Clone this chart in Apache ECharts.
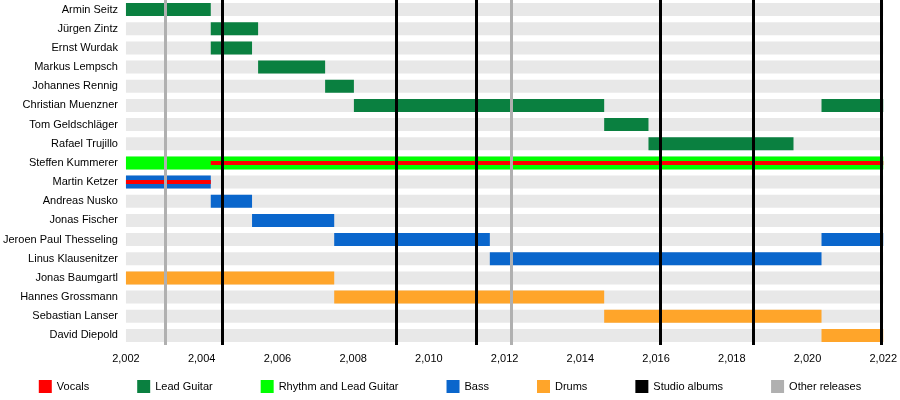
<!DOCTYPE html>
<html><head><meta charset="utf-8">
<script src="https://cdn.jsdelivr.net/npm/echarts@6/dist/echarts.min.js"></script>
<style>html,body{margin:0;padding:0;background:#fff}#c{width:900px;height:400px}</style>
</head><body><div id="c"></div>
<script>
const members = ["Armin Seitz","Jürgen Zintz","Ernst Wurdak","Markus Lempsch","Johannes Rennig","Christian Muenzner","Tom Geldschläger","Rafael Trujillo","Steffen Kummerer","Martin Ketzer","Andreas Nusko","Jonas Fischer","Jeroen Paul Thesseling","Linus Klausenitzer","Jonas Baumgartl","Hannes Grossmann","Sebastian Lanser","David Diepold"];
const vocals = [["Steffen Kummerer",2004.24,2022],["Martin Ketzer",2002,2004.24]];
const leadGuitar = [["Armin Seitz",2002,2004.24],["Jürgen Zintz",2004.24,2005.49],["Ernst Wurdak",2004.24,2005.33],["Markus Lempsch",2005.49,2007.26],["Johannes Rennig",2007.26,2008.02],["Christian Muenzner",2008.02,2014.63],["Christian Muenzner",2020.37,2022],["Tom Geldschläger",2014.63,2015.8],["Rafael Trujillo",2015.8,2019.63]];
const rhythmLead = [["Steffen Kummerer",2002,2022]];
const bass = [["Martin Ketzer",2002,2004.24],["Andreas Nusko",2004.24,2005.33],["Jonas Fischer",2005.33,2007.5],["Jeroen Paul Thesseling",2007.5,2011.61],["Jeroen Paul Thesseling",2020.37,2022],["Linus Klausenitzer",2011.61,2020.37]];
const drums = [["Jonas Baumgartl",2002,2007.5],["Hannes Grossmann",2007.5,2014.63],["Sebastian Lanser",2014.63,2020.37],["David Diepold",2020.37,2022]];
const studioAlbums = [2004.55,2009.14,2011.24,2016.11,2018.56,2021.95];
const otherReleases = [2003.04,2012.18];
const xTicks = [2002,2022,2];

function rend(h){
  return function(params, api){
    const y = api.value(0), s=api.coord([api.value(1),y]), e=api.coord([api.value(2),y]);
    return {type:'rect',shape:{x:s[0],y:s[1]-h/2,width:e[0]-s[0],height:h},style:api.style()};
  };
}
function ser(name,data,color,h,z){
  return {name,type:'custom',renderItem:rend(h),itemStyle:{color},encode:{x:[1,2],y:0},data,z:z||2};
}
const chart = echarts.init(document.getElementById('c'));
chart.setOption({
  animation:false,
  grid:{left:121,right:11,top:0,bottom:55},
  xAxis:{type:'value',min:xTicks[0],max:xTicks[1],interval:xTicks[2],splitLine:{show:false},
    axisLine:{lineStyle:{color:'#000'}},axisTick:{lineStyle:{color:'#000'}},
    axisLabel:{color:'#000',fontSize:11,fontFamily:'Liberation Sans'}},
  yAxis:{type:'category',data:members,inverse:true,axisLine:{show:false},axisTick:{show:false},
    axisLabel:{color:'#000',fontSize:11,fontFamily:'Liberation Sans',margin:8}},
  legend:{bottom:2,left:'center',itemGap:48,icon:'rect',itemWidth:13,itemHeight:13,
    textStyle:{fontSize:11,fontFamily:'Liberation Sans',color:'#000'},
    data:['Vocals','Lead Guitar','Rhythm and Lead Guitar','Bass','Drums','Studio albums','Other releases']},
  series:[
    ser('bg',members.map(m=>[m,2002,2022]),'#e8e8e8',13,1),
    ser('Lead Guitar',leadGuitar,'#0a8040',13),
    ser('Rhythm and Lead Guitar',rhythmLead,'#00ff00',13),
    ser('Bass',bass,'#0a66cc',13),
    ser('Drums',drums,'#ffa52a',13),
    ser('Vocals',vocals,'#ff0000',4,3),
    {name:'Studio albums',type:'line',data:[],itemStyle:{color:'#000'},z:5,
      markLine:{symbol:'none',silent:true,label:{show:false},lineStyle:{color:'#000',width:3,type:'solid'},
        data:studioAlbums.map(v=>({xAxis:v}))}},
    {name:'Other releases',type:'line',data:[],itemStyle:{color:'#b0b0b0'},z:5,
      markLine:{symbol:'none',silent:true,label:{show:false},lineStyle:{color:'#b0b0b0',width:3,type:'solid'},
        data:otherReleases.map(v=>({xAxis:v}))}}
  ]
});
</script></body></html>
